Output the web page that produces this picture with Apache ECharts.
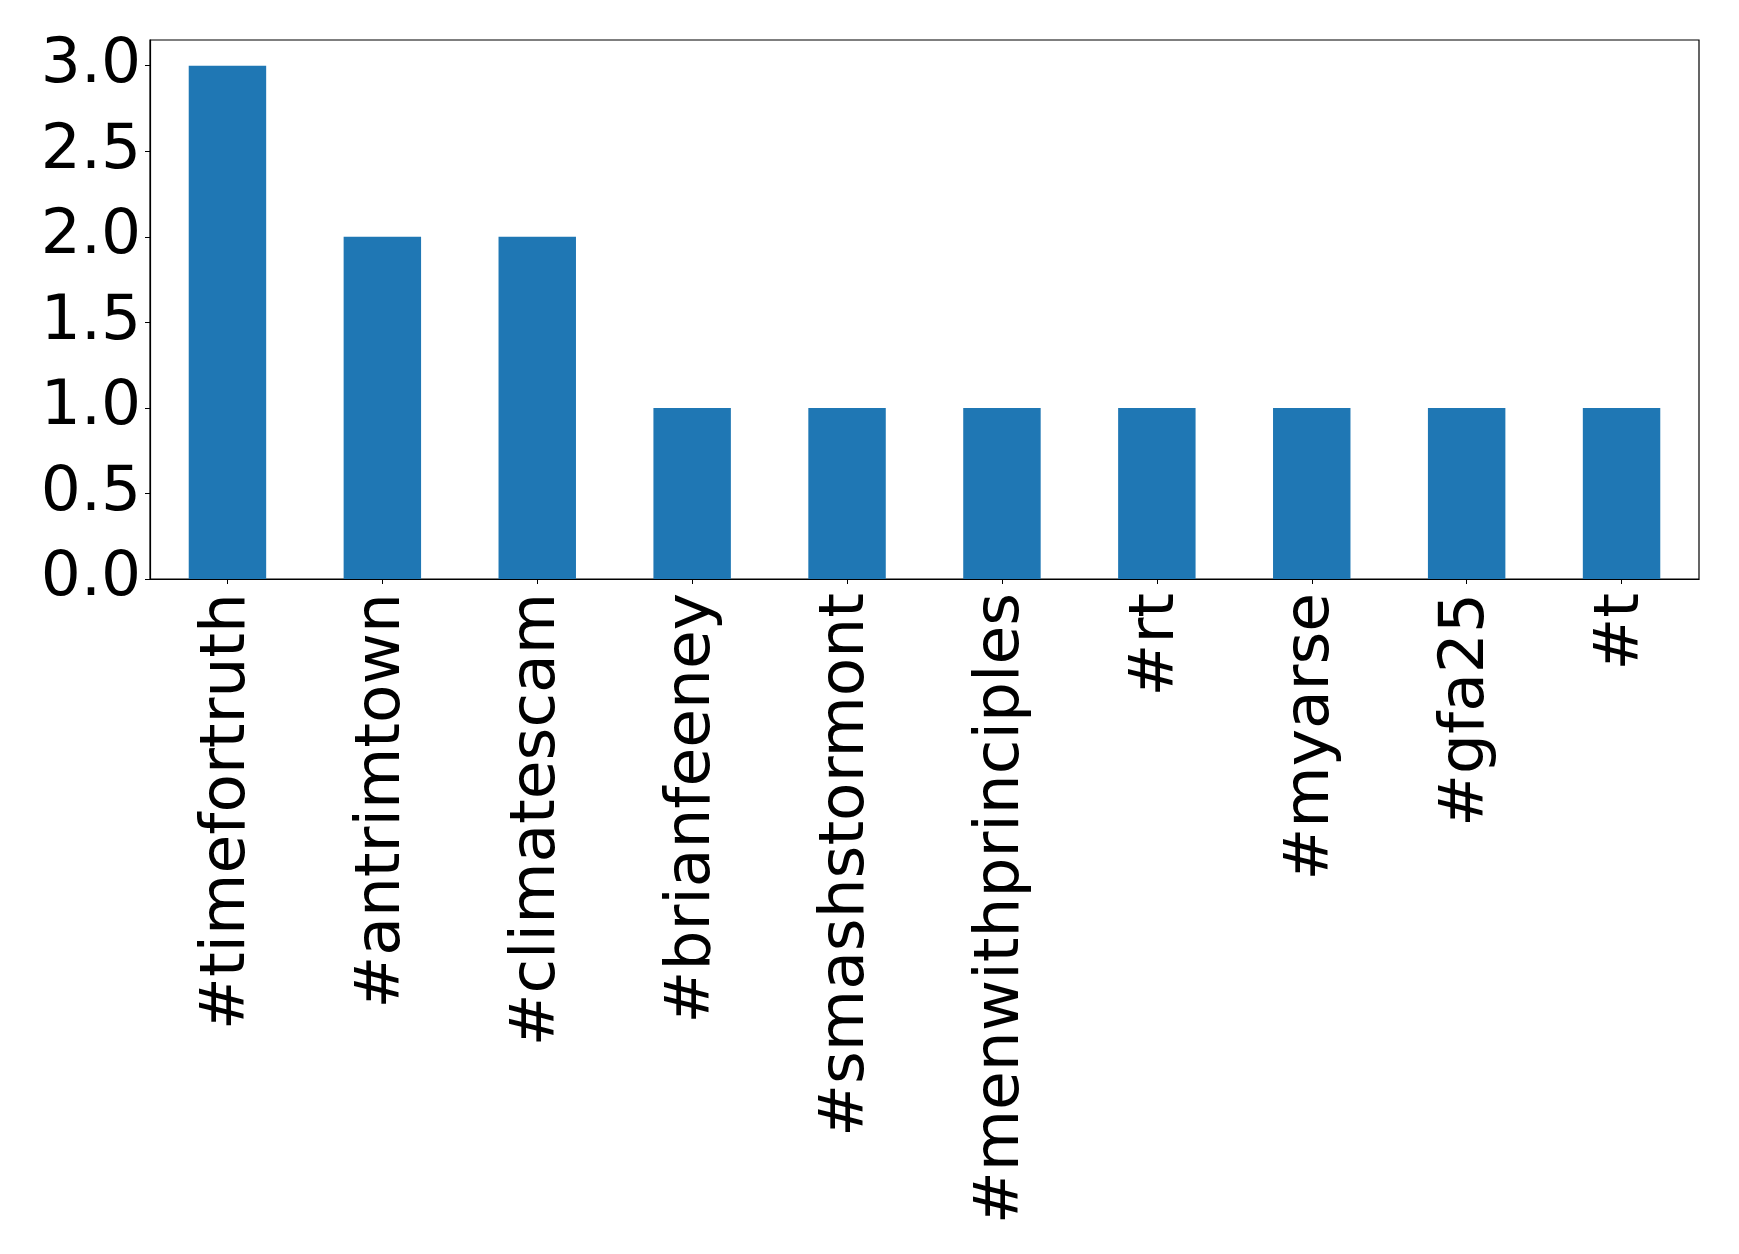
<!DOCTYPE html>
<html>
<head>
<meta charset="utf-8">
<script src="https://cdn.jsdelivr.net/npm/echarts@6/dist/echarts.min.js"></script>
<style>
html,body{margin:0;padding:0;background:#fff;}
#chart{width:1739px;height:1254px;}
</style>
</head>
<body>
<div id="chart"></div>
<script>
const categories = ["#timefortruth","#antrimtown","#climatescam","#brianfeeney","#smashstormont","#menwithprinciples","#rt","#myarse","#gfa25","#t"];
const counts = [3,2,2,1,1,1,1,1,1,1];
const yTicks = [0,0.5,1.0,1.5,2.0,2.5,3.0];

const chart = echarts.init(document.getElementById('chart'), null, {renderer:'canvas'});
chart.setOption({
  backgroundColor:'#ffffff',
  animation:false,
  textStyle:{fontFamily:'DejaVu Sans'},
  grid:{left:150, right:40, top:40, bottom:675, show:true, borderColor:'#000', borderWidth:1.2, containLabel:false},
  xAxis:{
    type:'category',
    data:categories,
    boundaryGap:true,
    axisLine:{show:true, lineStyle:{color:'#000', width:1.2}},
    axisTick:{show:true, alignWithLabel:true, length:5, lineStyle:{color:'#000', width:1}},
    axisLabel:{rotate:90, interval:0, margin:14, fontSize:63, color:'#000', fontFamily:'DejaVu Sans'},
    splitLine:{show:false}
  },
  yAxis:{
    type:'value',
    min:0, max:3.15, interval:0.5,
    axisLine:{show:true, lineStyle:{color:'#000', width:1.2}},
    axisTick:{show:true, length:5, lineStyle:{color:'#000', width:1}, customValues:yTicks},
    axisLabel:{fontSize:63, color:'#000', margin:9, fontFamily:'DejaVu Sans', customValues:yTicks,
      formatter:(v)=>Number(v).toFixed(1)},
    splitLine:{show:false}
  },
  series:[{
    type:'bar',
    data:counts,
    barWidth:'50%',
    itemStyle:{color:'#1f77b4'}
  }]
});
</script>
</body>
</html>
